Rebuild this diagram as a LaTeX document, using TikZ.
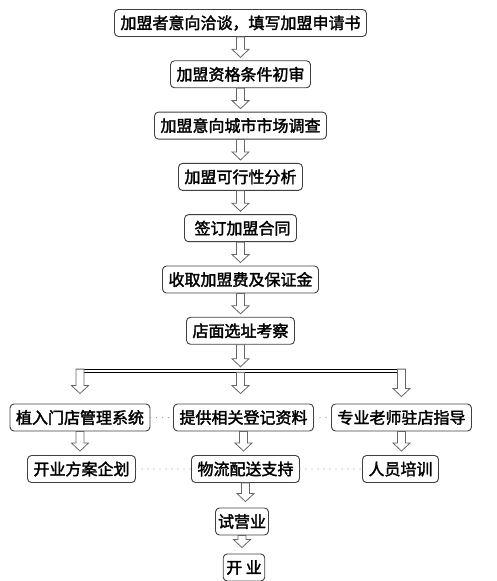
\documentclass[tikz,border=0pt]{standalone}
\usepackage{fontspec}
\setmainfont{Noto Sans CJK SC}[AutoFakeBold=2]
\usetikzlibrary{calc}
\tikzset{
    node distance=51.3pt, % spacing of the main chain
    }
\newcommand{\hollowarrow}[3][3pt]{%
  \draw[arrowline] let \p1=(#2), \p2=(#3) in
    (\x1-4pt,\y1) -- (\x1-4pt,\y2+#1+8pt) -- (\x1-8.5pt,\y2+#1+8pt) -- (\x1,\y2+#1)
    -- (\x1+8.5pt,\y2+#1+8pt) -- (\x1+4pt,\y2+#1+8pt) -- (\x1+4pt,\y1) -- cycle;}

\begin{document}
\begin{tikzpicture}[x=1pt,y=1pt,
flowbox/.style={draw=black!75, line width=0.9pt, rounded corners=4pt, fill=white,
  inner xsep=6pt, inner ysep=0pt, minimum height=27pt, font=\bfseries\fontsize{16}{18}\selectfont},
arrowline/.style={draw=black!60, line width=0.8pt, fill=white},
dotline/.style={draw=black!40, line width=1.2pt, line cap=round, dash pattern=on 0pt off 6pt},
]
\useasboundingbox (0,0) rectangle (496,581);
\node[flowbox] (apply) at (240.5,558) {加盟者意向洽谈，填写加盟申请书};
\node[flowbox] (review) [below of=apply] {加盟资格条件初审};
\node[flowbox] (survey) [below of=review] {加盟意向城市市场调查};
\node[flowbox] (analysis) [below of=survey] {加盟可行性分析};
\node[flowbox] (contract) [below of=analysis] {\hspace{4pt}签订加盟合同};
\node[flowbox] (fee) [below of=contract] {收取加盟费及保证金};
\node[flowbox] (site) [below of=fee] {店面选址考察};

\node[flowbox] (system) at (80,163.5) {植入门店管理系统};
\node[flowbox] (papers) at (243.5,163.5) {提供相关登记资料};
\node[flowbox] (guide) at (401.5,163.5) {专业老师驻店指导};
\node[flowbox] (plan) at (81.5,112) {开业方案企划};
\node[flowbox] (logistics) at (245.5,112) {物流配送支持};
\node[flowbox] (training) at (400.5,112) {人员培训};
\node[flowbox, inner xsep=2.5pt] (trial) at (242,59.5) {试营业};
\node[flowbox, inner xsep=3pt] (open) at (244,13.5) {开 业};

% dotted links within the rows
\draw[dotline] (system) -- (papers);
\draw[dotline] (papers) -- (guide);
\draw[dotline] (plan) -- (logistics);
\draw[dotline] (logistics) -- (training);

% split bar
\coordinate (split) at ($(site.south)+(0,-26)$);
\coordinate (splitL) at (system.north |- split);
\coordinate (splitR) at (guide.north |- split);
\draw[line width=1pt, double distance=1.8pt] (splitL) -- (splitR);

\hollowarrow{apply.south}{review.north}
\hollowarrow{review.south}{survey.north}
\hollowarrow{survey.south}{analysis.north}
\hollowarrow{analysis.south}{contract.north}
\hollowarrow{contract.south}{fee.north}
\hollowarrow{fee.south}{site.north}
\hollowarrow[4pt]{site.south}{split}
\hollowarrow[10pt]{$(splitL)+(0,1.6)$}{system.north}
\hollowarrow[10pt]{$(site.south |- split)+(0,-1.6)$}{papers.north}
\hollowarrow[7pt]{$(splitR)+(0,1.6)$}{guide.north}
\hollowarrow[4pt]{system.south}{plan.north}
\hollowarrow[4pt]{papers.south}{logistics.north}
\hollowarrow[4pt]{guide.south}{training.north}
\hollowarrow[6pt]{logistics.south}{trial.north}
\hollowarrow[6pt]{trial.south}{open.north}
\end{tikzpicture}
\end{document}
